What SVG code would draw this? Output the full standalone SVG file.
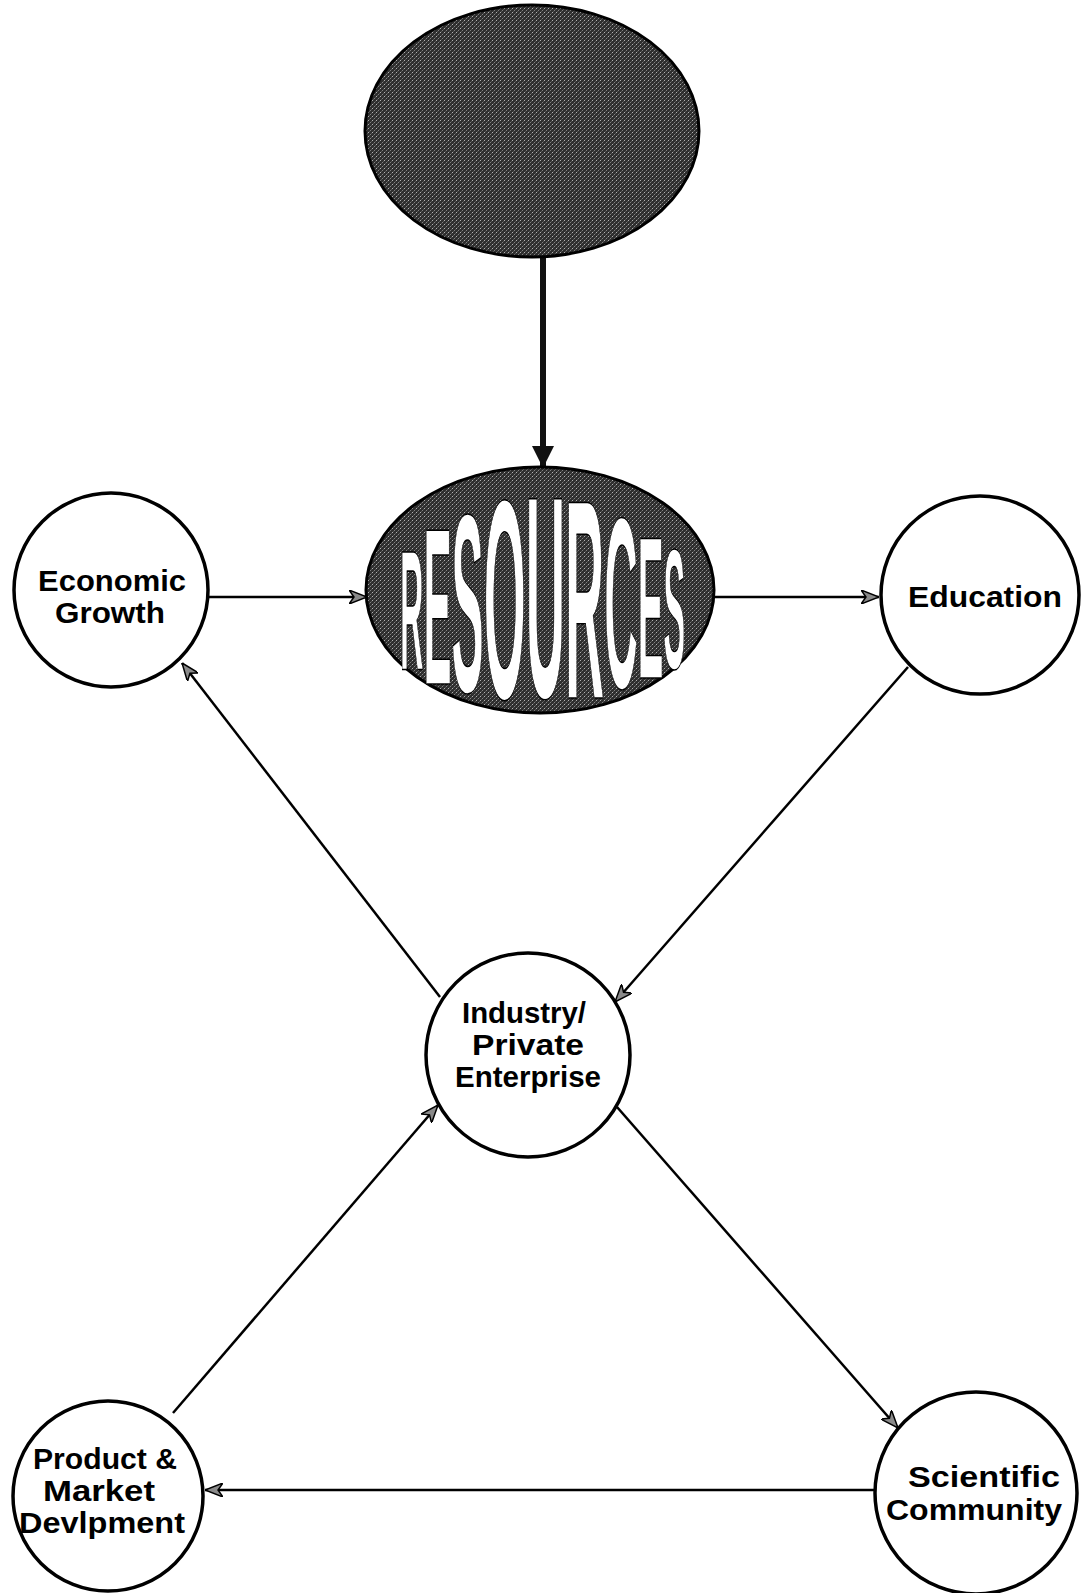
<svg xmlns="http://www.w3.org/2000/svg" width="1082" height="1593" viewBox="0 0 1082 1593">
<style>
  .node { fill: #ffffff; stroke: #000000; stroke-width: 3.5; }
  .lbl { font-family: "Liberation Sans", Arial, sans-serif; font-weight: bold; font-size: 29px; fill: #000; text-anchor: middle; }
  .conn { stroke: #000; stroke-width: 2.5; fill: none; marker-end: url(#arr); }
  .dark { fill: url(#tex); stroke: #000; stroke-width: 3; }
</style>
<defs>
  <pattern id="tex" width="4" height="4" patternUnits="userSpaceOnUse">
    <rect width="4" height="4" fill="#2e2e2e"/>
    <rect x="0" y="0" width="1" height="1" fill="#b0b0b0"/>
    <rect x="2" y="2" width="1" height="1" fill="#808080"/>
    <rect x="3" y="1" width="1" height="1" fill="#555"/>
    <rect x="1" y="3" width="1" height="1" fill="#555"/>
  </pattern>
  <marker id="arr" viewBox="0 0 18 14" refX="18" refY="7" markerWidth="18" markerHeight="14" markerUnits="userSpaceOnUse" orient="auto">
    <path d="M0,0 L18,7 L0,14 L5,7 Z" fill="#8a8a8a" stroke="#000" stroke-width="1.5"/>
  </marker>
  <marker id="bigarr" viewBox="0 0 22 22" refX="22" refY="11" markerWidth="22" markerHeight="22" markerUnits="userSpaceOnUse" orient="auto">
    <path d="M0,0 L22,11 L0,22 Z" fill="#111"/>
  </marker>
</defs>

<g id="connectors">
  <path d="M543,258 L543,468" stroke="#111" stroke-width="6" fill="none" marker-end="url(#bigarr)"/>
  <path class="conn" d="M208,597 L367,597"/>
  <path class="conn" d="M713,597 L879,597"/>
  <path class="conn" d="M908,667 L615,1002"/>
  <path class="conn" d="M440,997 L182,663"/>
  <path class="conn" d="M617,1107 L898,1428"/>
  <path class="conn" d="M875,1490 L205,1490"/>
  <path class="conn" d="M173,1413 L438,1105"/>
</g>

<g id="top-ellipse">
  <ellipse class="dark" cx="532" cy="131" rx="167" ry="126"/>
</g>

<g id="resources">
  <ellipse class="dark" cx="540" cy="590" rx="174" ry="123"/>
  <text transform="scale(0.19,1)" x="2105" font-family="Liberation Sans, Arial, sans-serif" font-weight="bold" fill="#fff" stroke="#000" stroke-width="1.5" vector-effect="non-scaling-stroke"><tspan font-size="171" y="670">R</tspan><tspan font-size="222" y="684">E</tspan><tspan font-size="254" y="692">S</tspan><tspan font-size="284" y="698">O</tspan><tspan font-size="288" y="697">U</tspan><tspan font-size="284" y="698">R</tspan><tspan font-size="244" y="688">C</tspan><tspan font-size="203" y="678">E</tspan><tspan font-size="171" y="668">S</tspan></text>
</g>

<g id="economic-growth">
  <circle class="node" cx="111" cy="590" r="97"/>
  <text class="lbl" x="112" y="591" textLength="148" lengthAdjust="spacingAndGlyphs">Economic</text>
  <text class="lbl" x="110" y="623" textLength="110" lengthAdjust="spacingAndGlyphs">Growth</text>
</g>

<g id="education">
  <circle class="node" cx="980" cy="595" r="99"/>
  <text class="lbl" x="985" y="607" textLength="154" lengthAdjust="spacingAndGlyphs">Education</text>
</g>

<g id="industry">
  <circle class="node" cx="528" cy="1055" r="102"/>
  <text class="lbl" x="524" y="1023" textLength="124" lengthAdjust="spacingAndGlyphs">Industry/</text>
  <text class="lbl" x="528" y="1055" textLength="112" lengthAdjust="spacingAndGlyphs">Private</text>
  <text class="lbl" x="528" y="1087" textLength="146" lengthAdjust="spacingAndGlyphs">Enterprise</text>
</g>

<g id="product">
  <circle class="node" cx="108" cy="1496" r="95"/>
  <text class="lbl" x="105" y="1469" textLength="144" lengthAdjust="spacingAndGlyphs">Product &amp;</text>
  <text class="lbl" x="99" y="1501" textLength="112" lengthAdjust="spacingAndGlyphs">Market</text>
  <text class="lbl" x="102" y="1533" textLength="166" lengthAdjust="spacingAndGlyphs">Devlpment</text>
</g>

<g id="scientific">
  <circle class="node" cx="976" cy="1493" r="101"/>
  <text class="lbl" x="984" y="1487" textLength="152" lengthAdjust="spacingAndGlyphs">Scientific</text>
  <text class="lbl" x="974" y="1520" textLength="176" lengthAdjust="spacingAndGlyphs">Community</text>
</g>
</svg>
